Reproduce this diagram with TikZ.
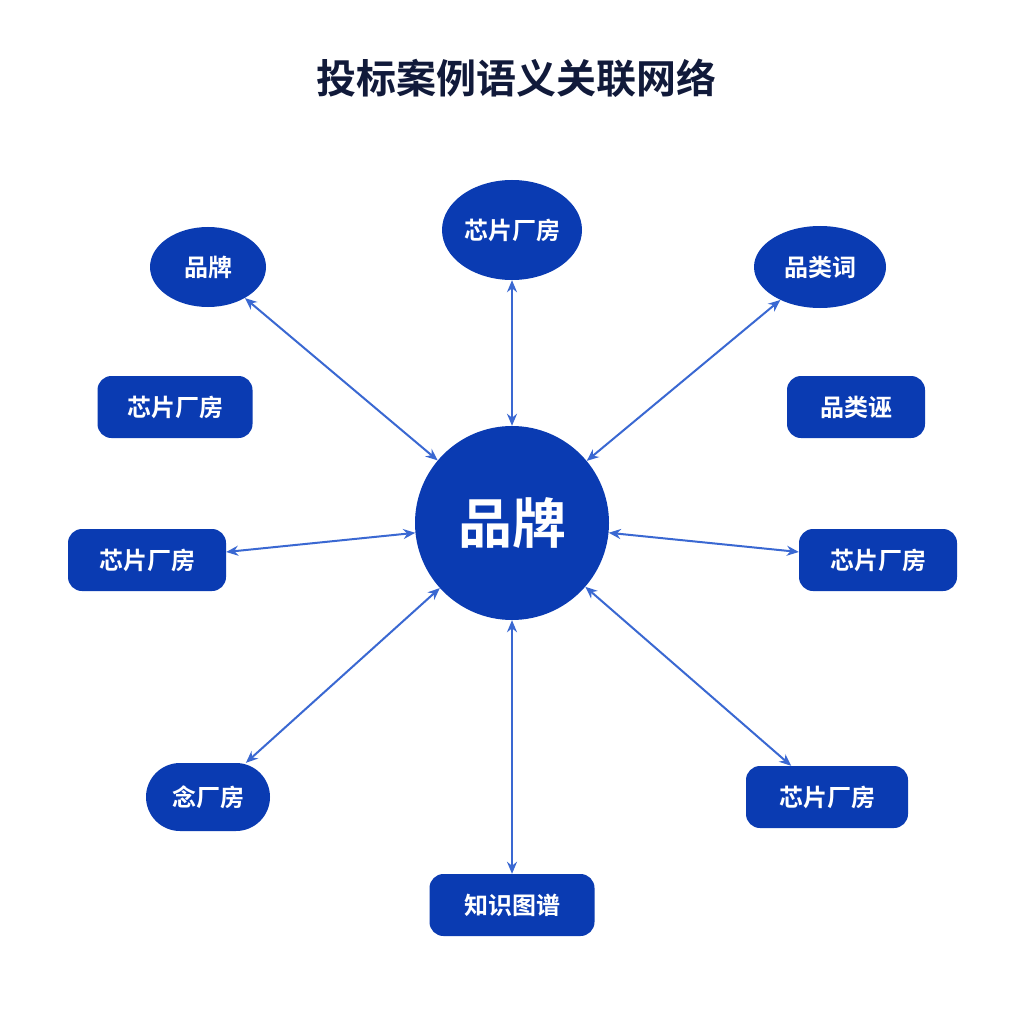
\documentclass[tikz,border=0pt]{standalone}
\usepackage{fontspec}
\setmainfont{Noto Sans CJK SC}[BoldFont={* Bold}]
\usetikzlibrary{arrows.meta,shapes.geometric}
\definecolor{nodeblue}{HTML}{0A3BB2}
\definecolor{linkblue}{HTML}{3A68D2}
\definecolor{titlec}{HTML}{111A3A}
\begin{document}
\begin{tikzpicture}[x=1pt,y=-1pt,
  base/.style={fill=nodeblue,text=white,font=\bfseries\fontsize{24}{27}\selectfont,inner sep=0pt,align=center},
  rr/.style={base,rounded corners=14pt,minimum height=62pt},
  ell/.style={base,ellipse},
  link/.style={draw=linkblue,line width=2pt,{Stealth[length=12pt,width=10pt]}-{Stealth[length=12pt,width=10pt]}}]
\useasboundingbox (0,0) rectangle (1024,1024);
\fill[white] (0,0) rectangle (1024,1024);
\node[text=titlec,font=\bfseries\fontsize{40}{44}\selectfont] (title) at (516,78) {投标案例语义关联网络};
\node[base,circle,minimum size=194pt,font=\bfseries\fontsize{54}{58}\selectfont] (c) at (512,523) {品牌};
\node[ell,minimum width=140pt,minimum height=100pt] (t) at (512,230) {芯片厂房};
\node[ell,minimum width=116pt,minimum height=80pt] (tl) at (208,267) {品牌};
\node[ell,minimum width=132pt,minimum height=82pt] (tr) at (820,267) {品类词};
\node[rr,minimum width=155pt] (ml) at (175,407) {芯片厂房};
\node[rr,minimum width=138pt] (mr) at (856,407) {品类诬};
\node[rr,minimum width=158pt] (l) at (147,560) {芯片厂房};
\node[rr,minimum width=158pt] (r) at (878,560) {芯片厂房};
\node[base,rounded corners=34pt,minimum width=124pt,minimum height=68pt] (bl) at (208,797) {念厂房};
\node[rr,minimum width=162pt] (br) at (827,797) {芯片厂房};
\node[rr,minimum width=165pt] (b) at (512,905) {知识图谱};
\foreach \n in {t,tl,tr,l,r,bl,br,b} \draw[link] (c) -- (\n);
\end{tikzpicture}
\end{document}
